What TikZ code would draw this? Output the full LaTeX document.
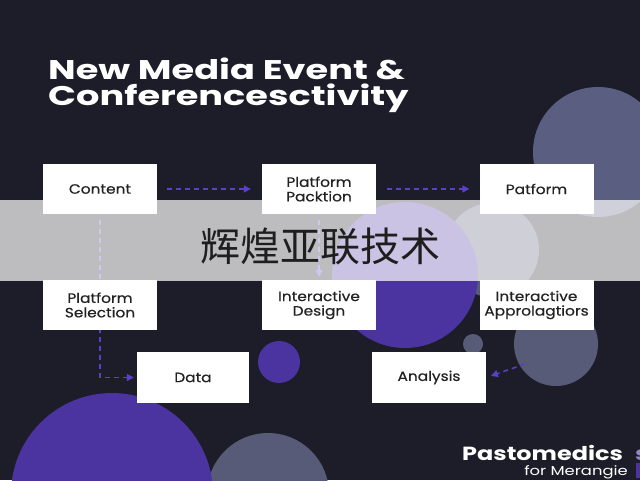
\documentclass[tikz,border=0pt]{standalone}
\usepackage{fontspec}
\setmainfont{Poppins}
\newfontfamily\boxfont{Poppins}[FakeStretch=1.14, FakeBold=0.5]
\newfontfamily\titlefont{Poppins}[FakeStretch=1.36]
\newfontfamily\brandfont{Poppins}[FakeStretch=1.26]
\newfontfamily\cjk{Noto Sans CJK SC}
\usetikzlibrary{arrows.meta}
\definecolor{bg}{HTML}{1D1D29}
\definecolor{purp}{HTML}{4B33A0}
\definecolor{grayc}{HTML}{575B78}
\definecolor{grayd}{HTML}{5A5E80}
\definecolor{arrowc}{HTML}{5A3FCB}
\definecolor{boxtext}{HTML}{222222}
\definecolor{cjktext}{HTML}{1E1E1E}
\pgfdeclarelayer{back}
\pgfdeclarelayer{front}
\pgfsetlayers{back,main,front}
\begin{document}
\begin{tikzpicture}[x=1pt,y=-1pt,
  box/.style={fill=white, minimum width=114pt, minimum height=50pt, inner sep=0pt,
    font=\boxfont\fontsize{13.5}{14.5}\selectfont, text=boxtext, align=center},
  conn/.style={draw=arrowc, line width=1.5pt, dash pattern=on 5pt off 4pt,
    -{Triangle[length=7pt,width=7pt]}},
  titletext/.style={anchor=base west, text=white, inner sep=0pt, font=\titlefont\fontsize{27}{30}\selectfont\bfseries}]
\useasboundingbox (0,0) rectangle (640,480);
\begin{pgfonlayer}{back}
\begin{scope}
\clip (0,0) rectangle (640,480);
\fill[bg] (0,0) rectangle (640,480);
\fill[grayd] (598,152) circle[radius=65pt];
\fill[grayc] (492,250) circle[radius=47pt];
\fill[purp] (405,275) circle[radius=73pt];
\fill[purp] (279,362) circle[radius=21pt];
\fill[grayc] (556,344) circle[radius=42pt];
\fill[grayc] (473,344) circle[radius=10pt];
\fill[grayc] (268,494) circle[radius=61pt];
\fill[purp] (112,494) circle[radius=101pt];
\end{scope}
\end{pgfonlayer}

\node[box] (content) at (100,189) {Content};
\node[box] (packtion) at (319,189) {Platform\\Packtion};
\node[box] (patform) at (536.5,189) {Patform};
\node[box] (selection) at (100,305) {Platform\\Selection};
\node[box] (design) at (319,305) {Interactive\\Design};
\node[box] (approl) at (536.5,305) {Interactive\\Approlagtiors};
\node[box, minimum width=112pt, minimum height=51pt] (data) at (193,377.5) {Data};
\node[box, minimum height=51pt] (analysis) at (429,377.5) {Analysis};
\coordinate (afrom) at (525,364);

\begin{pgfonlayer}{back}
\draw[conn, shorten <=10pt, shorten >=11pt] (content.east) -- (packtion.west);
\draw[conn, shorten <=11pt, shorten >=10pt] (packtion.east) -- (patform.west);
\draw[conn, shorten <=6pt, shorten >=3pt] (content.south) |- (data.west);
\draw[conn, shorten <=6pt, shorten >=3pt] (packtion.south) -- (design.north);
\draw[conn, shorten >=5pt] (afrom) -- (analysis.east);
\fill[white, opacity=0.71] (0,200) rectangle (640,281);
\end{pgfonlayer}

\begin{pgfonlayer}{front}
\node[text=cjktext, font=\cjk\fontsize{40}{40}\selectfont, inner sep=0pt] (banner) at (320,246) {辉煌亚联技术};
\end{pgfonlayer}

\node[titletext] (t1) at (48,79) {New Media Event \&};
\node[titletext] (t2) at (48,105) {Conferencesctivity};
\begin{scope}
\clip (0,0) rectangle (640,480);
\node[anchor=base west, text=white, font=\brandfont\fontsize{19}{20}\selectfont\bfseries, inner sep=0pt] (brand) at (462,460) {Pastomedics};
\node[anchor=base west, text=purp!60!white, font=\brandfont\fontsize{19}{20}\selectfont\bfseries, inner sep=0pt] (brands) at (635,460) {s};
\node[anchor=base east, text=white, font=\brandfont\fontsize{13}{14}\selectfont, inner sep=0pt] (sub) at (628,475) {for Merangie};
\fill[purp] (636,463) rectangle (640,478);
\end{scope}
\end{tikzpicture}
\end{document}
